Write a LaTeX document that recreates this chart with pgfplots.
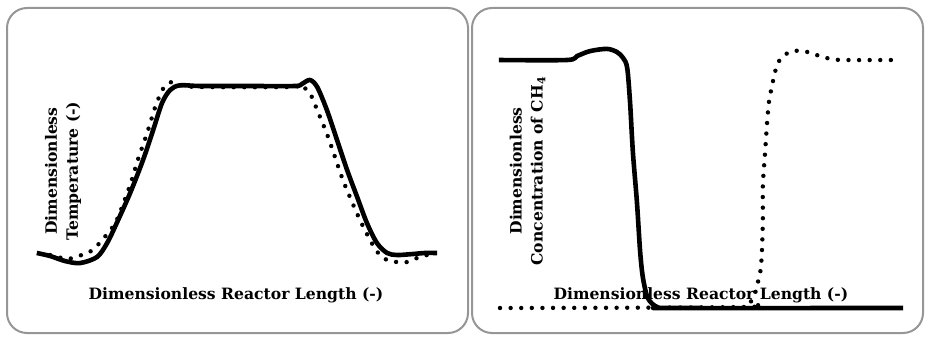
\documentclass[border=0pt]{standalone}
\usepackage{pgfplots}
\pgfplotsset{compat=1.18}
\usepackage{fontspec}
\setmainfont{DejaVu Serif}
\definecolor{panelgray}{RGB}{150,150,150}

\pgfplotstableread{
x y
0.002 0.006
0.035 -0.012
0.072 -0.042
0.109 -0.054
0.151 -0.018
0.176 0.065
0.200 0.185
0.233 0.363
0.265 0.560
0.290 0.738
0.312 0.899
0.332 0.976
0.356 1.004
0.406 1.000
0.530 1.000
0.641 1.000
0.658 1.012
0.678 1.036
0.696 0.994
0.720 0.857
0.745 0.679
0.770 0.500
0.795 0.339
0.819 0.185
0.844 0.065
0.869 0.006
0.894 -0.006
0.933 0.000
0.963 0.006
0.993 0.006
}\tempsolid

\pgfplotstableread{
x y
0.035 -0.006
0.054 -0.018
0.079 -0.030
0.104 -0.012
0.129 0.006
0.153 0.054
0.178 0.125
0.200 0.202
0.233 0.411
0.252 0.560
0.275 0.720
0.295 0.875
0.307 0.946
0.319 1.000
0.337 1.024
0.356 1.006
0.406 0.994
0.629 0.994
0.649 1.006
0.661 0.994
0.678 0.958
0.698 0.845
0.723 0.696
0.757 0.458
0.777 0.339
0.802 0.202
0.827 0.083
0.847 0.006
0.869 -0.036
0.894 -0.048
0.918 -0.048
0.943 -0.024
0.968 -0.006
0.980 0.000
}\tempdotted

\pgfplotstableread{
x y
0.002 1.004
0.170 1.004
0.195 1.020
0.227 1.040
0.269 1.049
0.294 1.036
0.309 1.012
0.319 0.972
0.326 0.834
0.333 0.632
0.343 0.429
0.351 0.227
0.358 0.121
0.370 0.040
0.393 0.004
0.430 0.000
1.000 0.000
}\chsolid

\pgfplotstableread{
x y
0.005 0.000
0.610 0.004
0.622 0.020
0.635 0.061
0.644 0.121
0.649 0.162
0.652 0.243
0.654 0.364
0.654 0.498
0.659 0.619
0.664 0.741
0.669 0.834
0.677 0.903
0.684 0.955
0.691 0.992
0.704 1.020
0.726 1.040
0.751 1.040
0.775 1.032
0.800 1.016
0.827 1.008
0.852 1.004
0.980 1.004
}\chdotted

\begin{document}
\begin{tikzpicture}
\path[use as bounding box] (0pt,0pt) rectangle (462.5pt,169pt);
\draw[panelgray, line width=1pt, rounded corners=10pt] (3.5pt,2.5pt) rectangle (234pt,165pt);
\draw[panelgray, line width=1pt, rounded corners=10pt] (236pt,2.5pt) rectangle (461.5pt,165pt);
\pgfplotsset{
  panel/.style={
    scale only axis, xmin=0, xmax=1, ymin=0, ymax=1, clip=false,
    axis line style={draw=none}, ticks=none,
    label style={font=\fontsize{7.8}{10.5}\selectfont\bfseries, align=center, anchor=center},
  },
  solidc/.style={black, line width=2.3pt, smooth, tension=0.5, line join=round},
  dotc/.style={black, line width=2.2pt, smooth, tension=0.5, line cap=round, dash pattern=on 0pt off 5.3pt},
}
\begin{axis}[panel, at={(18pt,42pt)}, anchor=south west, width=202pt, height=84pt,
  xlabel={Dimensionless Reactor Length (-)},
  ylabel={Dimensionless\\Temperature (-)},
  xlabel style={at={(rel axis cs:0.495,-0.244)}},
  ylabel style={at={(rel axis cs:0.067,0.494)}},
]
\addplot[solidc] table {\tempsolid};
\addplot[dotc] table {\tempdotted};
\end{axis}
\begin{axis}[panel, at={(249pt,15pt)}, anchor=south west, width=202.5pt, height=123.5pt,
  xlabel={Dimensionless Reactor Length (-)},
  ylabel={Dimensionless\\Concentration of CH\textsubscript{4}},
  xlabel style={at={(rel axis cs:0.501,0.053)}},
  ylabel style={at={(rel axis cs:0.073,0.555)}},
]
\addplot[dotc] table {\chdotted};
\addplot[solidc] table {\chsolid};
\end{axis}
\end{tikzpicture}
\end{document}
